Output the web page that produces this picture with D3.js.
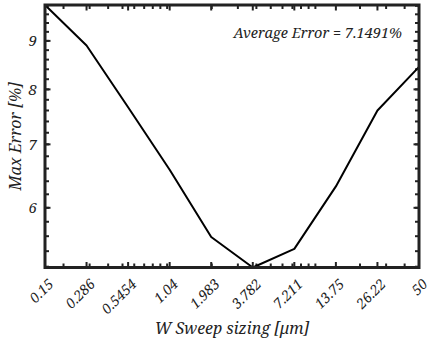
<!DOCTYPE html>
<html><head><meta charset="utf-8">
<script src="https://cdn.jsdelivr.net/npm/d3@7"></script>
<style>body{margin:0;background:#fff}svg{display:block}</style>
</head><body><svg id="c" width="430" height="345"></svg>
<script>
const sizes = [0.15, 0.286, 0.5454, 1.04, 1.983, 3.782, 7.211, 13.75, 26.22, 50];
const maxError = [9.82, 8.90, 7.66, 6.58, 5.59, 5.19, 5.43, 6.32, 7.60, 8.45];
const xTickLabels = ["0.15", "0.286", "0.5454", "1.04", "1.983", "3.782", "7.211", "13.75", "26.22", "50"];
const yTicks = [6, 7, 8, 9];
const annotation = "Average Error = 7.1491%";
const xTitle = "W Sweep sizing [\u03BCm]";
const yTitle = "Max Error [%]";

const FONT = "'Noto Serif', 'DejaVu Serif', serif";
const svg = d3.select("#c");
const L = 45, R = 419, T = 5, B = 267.5;
const x = d3.scaleLog().domain(d3.extent(sizes)).range([L, R]);
const y = d3.scaleLog().domain(d3.extent(maxError)).range([B, T]);

const xMinor = [];
for (let e = -1; e <= 1; e++) for (let m = 1; m <= 9; m++) {
  const v = m * Math.pow(10, e);
  if (v >= x.domain()[0] && v <= x.domain()[1]) xMinor.push(+v.toPrecision(6));
}
const yMinor = d3.range(52, 99, 2).map(v => v / 10).filter(v => v >= y.domain()[0] && v <= y.domain()[1]);

const g = svg.append("g");
const tickStyle = s => s.attr("stroke", "#222").attr("stroke-width", 2);
[[B, -1], [T, 1]].forEach(([yy, dir]) => {
  g.append("g").selectAll("line").data(xMinor).join("line")
    .attr("x1", d => x(d)).attr("x2", d => x(d))
    .attr("y1", yy).attr("y2", yy + dir * 4).call(tickStyle);
  g.append("g").selectAll("line").data(sizes).join("line")
    .attr("x1", d => x(d)).attr("x2", d => x(d))
    .attr("y1", yy).attr("y2", yy + dir * 5.5).call(tickStyle);
});
[[L, 1], [R, -1]].forEach(([xx, dir]) => {
  g.append("g").selectAll("line").data(yMinor).join("line")
    .attr("y1", d => y(d)).attr("y2", d => y(d))
    .attr("x1", xx).attr("x2", xx + dir * 4).call(tickStyle);
  g.append("g").selectAll("line").data(yTicks).join("line")
    .attr("y1", d => y(d)).attr("y2", d => y(d))
    .attr("x1", xx).attr("x2", xx + dir * 5.5).call(tickStyle);
});

svg.append("path").datum(sizes.map((s, i) => [s, maxError[i]]))
  .attr("fill", "none").attr("stroke", "#000").attr("stroke-width", 2)
  .attr("stroke-linejoin", "round")
  .attr("d", d3.line().x(d => x(d[0])).y(d => y(d[1])));

svg.append("rect").attr("x", L).attr("y", T).attr("width", R - L).attr("height", B - T)
  .attr("fill", "none").attr("stroke", "#222").attr("stroke-width", 3);

const txt = sel => sel.attr("font-family", FONT).attr("font-style", "italic").attr("fill", "#222");

svg.append("g").selectAll("text").data(sizes).join("text")
  .attr("transform", d => `translate(${x(d) + 6},${B + 14}) rotate(-45)`)
  .attr("text-anchor", "end").attr("font-size", 14).attr("dy", "0.35em")
  .call(txt).text((d, i) => xTickLabels[i]);

svg.append("g").selectAll("text").data(yTicks).join("text")
  .attr("x", L - 8).attr("y", d => y(d)).attr("dy", "0.35em")
  .attr("text-anchor", "end").attr("font-size", 15).call(txt).text(d => d);

svg.append("text").attr("x", (L + R) / 2).attr("y", 334).attr("text-anchor", "middle")
  .attr("font-size", 16).call(txt).text(xTitle);
svg.append("text").attr("transform", `translate(21,${(T + B) / 2}) rotate(-90)`)
  .attr("text-anchor", "middle").attr("font-size", 16).call(txt).text(yTitle);
svg.append("text").attr("x", 402).attr("y", 38).attr("text-anchor", "end")
  .attr("font-size", 14.5).call(txt).text(annotation);
</script></body></html>
